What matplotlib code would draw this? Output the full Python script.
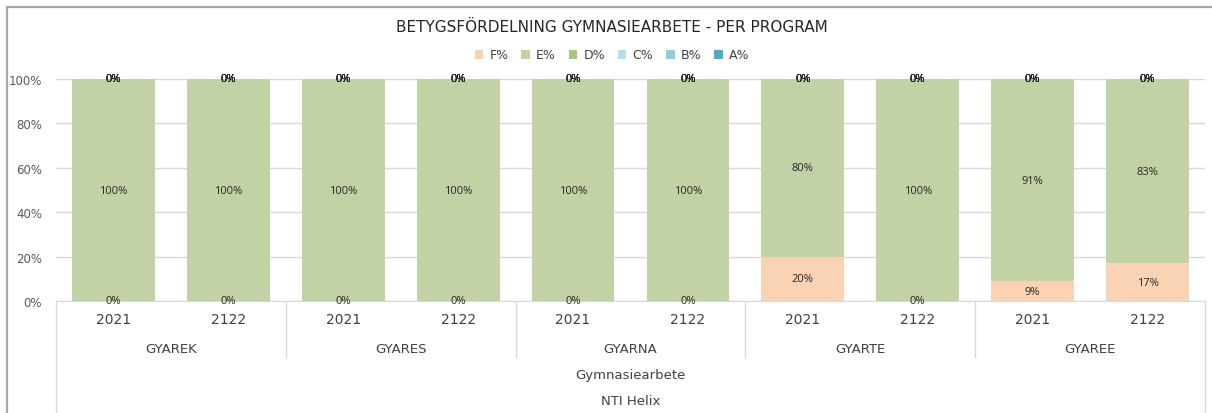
import matplotlib
matplotlib.use("Agg")
import matplotlib.pyplot as plt
import matplotlib.patches as mpatches
from matplotlib.transforms import blended_transform_factory
import numpy as np

plt.rcParams["font.family"] = "DejaVu Sans"

Title = "BETYGSFÖRDELNING GYMNASIEARBETE - PER PROGRAM"
programs = ["GYAREK", "GYARES", "GYARNA", "GYARTE", "GYAREE"]
years = ["2021", "2122"] * 5
level3 = "Gymnasiearbete"
level4 = "NTI Helix"

series_names = ["F%", "E%", "D%", "C%", "B%", "A%"]
F = [0, 0, 0, 0, 0, 0, 20, 0, 9, 17]
E = [100, 100, 100, 100, 100, 100, 80, 100, 91, 83]
D = [0, 0, 0, 0, 0, 0, 0, 0, 0, 0]
C = [0, 0, 0, 0, 0, 0, 0, 0, 0, 0]
B = [0, 0, 0, 0, 0, 0, 0, 0, 0, 0]
A = [0, 0, 0, 0, 0, 0, 0, 0, 0, 0]
colors = ["#F9D3B3", "#C2D2A5", "#A9C47F", "#B7DEE8", "#92CDDC", "#4BACC6"]

W, H = 1212, 414
fig = plt.figure(figsize=(W / 100, H / 100), dpi=100)
ax = fig.add_axes([56 / W, 1 - 302 / H, (1205 - 56) / W, (302 - 80) / H])

x = np.arange(len(years))
bottom = np.zeros(len(years))
bars = []
for name, vals, col in zip(series_names, [F, E, D, C, B, A], colors):
    b = ax.bar(x, vals, 0.72, bottom=bottom, color=col, label=name, zorder=2)
    bars.append(b)
    ax.bar_label(b, labels=[f"{v:.0f}%" for v in vals], label_type="center",
                 fontsize=8, color="#262626", family="Open Sans")
    bottom += np.array(vals)

ax.set_xlim(-0.5, len(years) - 0.5)
ax.set_ylim(0, 100)
ax.set_yticks(np.arange(0, 101, 20))
ax.set_yticklabels([f"{v}%" for v in range(0, 101, 20)], fontsize=8.5, color="#595959")
ax.grid(axis="y", color="#D9D9D9", lw=1, zorder=0)
for s in ["left", "right", "top"]:
    ax.spines[s].set_visible(False)
ax.spines["bottom"].set_color("#D9D9D9")
ax.tick_params(axis="both", length=0)
ax.tick_params(axis="y", pad=10)
ax.set_xticks([])

# multi level category axis
tr = blended_transform_factory(ax.transData, fig.transFigure)
y_axis = 1 - 302 / H
for i, yr in enumerate(years):
    ax.text(i, 1 - 320 / H, yr, transform=tr, ha="center", va="center",
            fontsize=10, color="#404040")
for g, p in enumerate(programs):
    ax.text(2 * g + 0.5, 1 - 350 / H, p, transform=tr, ha="center", va="center",
            fontsize=9.5, color="#404040")
for xb in [1.5, 3.5, 5.5, 7.5]:
    ax.plot([xb, xb], [y_axis, 1 - 358 / H], transform=tr, color="#D9D9D9",
            lw=1, clip_on=False)
for xb in [-0.5, len(years) - 0.5]:
    ax.plot([xb, xb], [y_axis, 0], transform=tr, color="#D9D9D9",
            lw=1, clip_on=False)
ax.text(4.5, 1 - 376 / H, level3, transform=tr, ha="center", va="center",
        fontsize=9.5, color="#404040")
ax.text(4.5, 1 - 402 / H, level4, transform=tr, ha="center", va="center",
        fontsize=9.5, color="#404040")

fig.text(0.505, 1 - 27 / H, Title, ha="center", va="center", fontsize=11, color="#262626")
fig.legend(handles=bars, labels=series_names, loc="center",
           bbox_to_anchor=(0.505, 1 - 56 / H), ncol=6, frameon=False,
           fontsize=9, handlelength=0.7, handleheight=0.7, handletextpad=0.5,
           columnspacing=1.0, labelcolor="#404040")

border = mpatches.Rectangle((7 / W, -0.1), 1.2, 1.1 - 8 / H, transform=fig.transFigure,
                            fill=False, edgecolor="#A6A6A6", lw=1.6)
fig.patches.append(border)

fig.savefig("out.png", dpi=100)
